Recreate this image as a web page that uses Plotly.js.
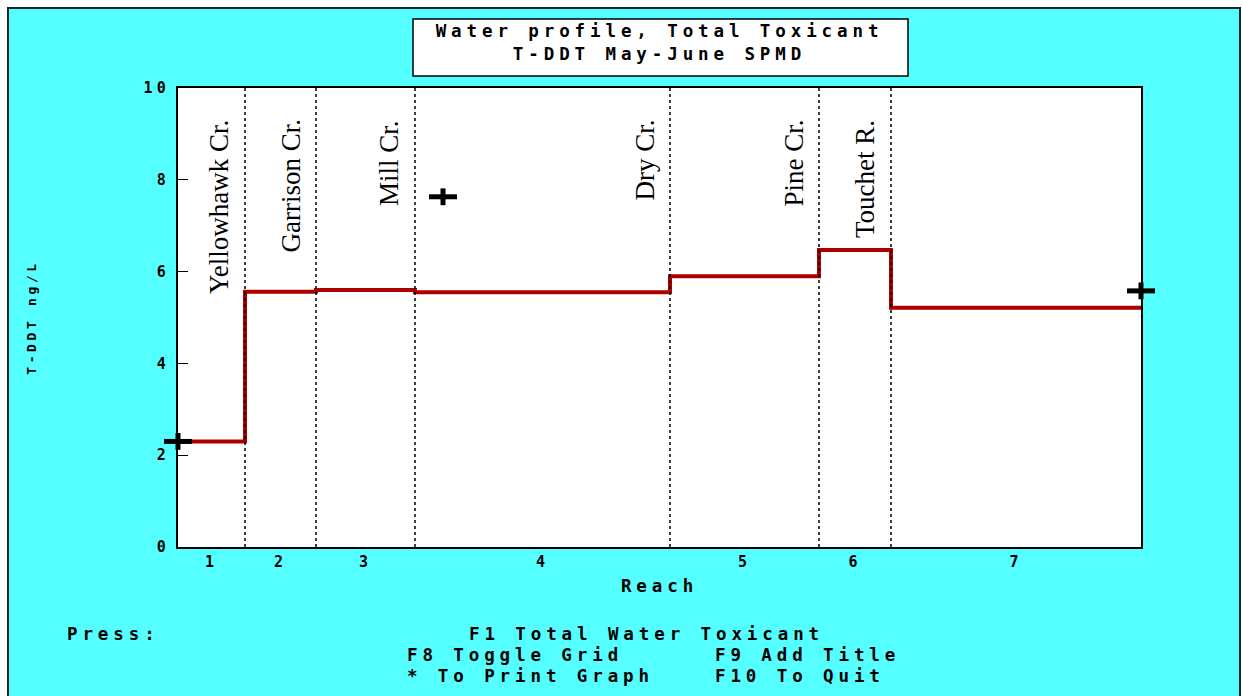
<!DOCTYPE html>
<html>
<head>
<meta charset="utf-8">
<script src="https://cdn.plot.ly/plotly-3.0.1.min.js"></script>
<style>
  html, body { margin: 0; padding: 0; background: #ffffff; }
  #chart { width: 1243px; height: 696px; }
  text[style*="Mono"] { letter-spacing: 0.28em; }
</style>
</head>
<body>
<div id="chart"></div>
<script>
// ---- data ----
// reach boundaries along the river (arbitrary distance units)
const reachBounds = [0, 3.35, 6.9, 11.85, 24.6, 32.05, 35.65, 48.15];
const reachLabels = ['1', '2', '3', '4', '5', '6', '7'];
// modelled total T-DDT water concentration per reach (ng/L)
const reachTDDT = [2.3, 5.56, 5.6, 5.55, 5.9, 6.47, 5.21];
// tributaries entering at reach boundaries 1..6
const tributaries = ['Yellowhawk Cr.', 'Garrison Cr.', 'Mill Cr.', 'Dry Cr.', 'Pine Cr.', 'Touchet R.'];
// measured SPMD samples
const sampleX = [0, 13.25, 48.15];
const sampleY = [2.3, 7.63, 5.58];
const yTicks = [0, 2, 4, 6, 8, 10];

// ---- layout helpers ----
const W = 1243, H = 696;
const M = {l: 178, r: 102, t: 88, b: 149};
const PW = W - M.l - M.r, PH = H - M.t - M.b;
const px = v => (v - M.l) / PW;          // pixel x -> paper x
const py = v => (H - M.b - v) / PH;      // pixel y -> paper y

const MONO = '"DejaVu Sans Mono", "Liberation Mono", monospace';
const SERIF = '"Liberation Serif", "DejaVu Serif", serif';
const CYAN = '#55FFFF';

// step line built from reach data
const stepX = reachBounds.slice();
const stepY = reachTDDT.concat([reachTDDT[reachTDDT.length - 1]]);
const midX = reachLabels.map((_, i) => (reachBounds[i] + reachBounds[i + 1]) / 2);

const traces = [
  {
    x: stepX, y: stepY, type: 'scatter', mode: 'lines',
    line: {shape: 'hv', color: '#AA0000', width: 4},
    hoverinfo: 'x+y', showlegend: false
  },
  {
    x: sampleX, y: sampleY, type: 'scatter', mode: 'markers', cliponaxis: false,
    marker: {symbol: 'line-ew', size: 20, line: {width: 5, color: '#000000'}},
    showlegend: false
  },
  {
    x: sampleX, y: sampleY, type: 'scatter', mode: 'markers', cliponaxis: false,
    marker: {symbol: 'line-ns', size: 12, line: {width: 5, color: '#000000'}},
    showlegend: false
  }
];

const shapes = [
  // cyan screen frame
  {type: 'rect', xref: 'paper', yref: 'paper', layer: 'below',
   x0: px(8), x1: px(1240), y0: py(720), y1: py(8),
   fillcolor: CYAN, line: {color: '#102828', width: 2}},
  // white plot area
  {type: 'rect', xref: 'paper', yref: 'paper', layer: 'below',
   x0: 0, x1: 1, y0: 0, y1: 1, fillcolor: '#ffffff', line: {width: 0}},
  // title box
  {type: 'rect', xref: 'paper', yref: 'paper', layer: 'below',
   x0: px(413), x1: px(908), y0: py(76), y1: py(19),
   fillcolor: '#ffffff', line: {color: '#000000', width: 1.5}}
];
// dotted tributary lines at reach boundaries
for (let i = 1; i < reachBounds.length - 1; i++) {
  shapes.push({type: 'line', xref: 'x', yref: 'paper',
    x0: reachBounds[i], x1: reachBounds[i], y0: 0, y1: 1,
    line: {color: '#000000', width: 1.5, dash: 'dot'}});
}

const annotations = [];
tributaries.forEach((name, i) => {
  annotations.push({
    text: name, x: reachBounds[i + 1], xref: 'x', y: py(118), yref: 'paper',
    xanchor: 'right', yanchor: 'top', xshift: -9, textangle: -90, showarrow: false,
    font: {family: SERIF, size: 27, color: '#000000'}
  });
});

const menu = [
  ['Press:', 66, 634],
  ['F1 Total Water Toxicant', 468, 634],
  ['F8 Toggle Grid', 406, 655],
  ['F9 Add Title', 714, 655],
  ['* To Print Graph', 406, 676],
  ['F10 To Quit', 714, 676]
];
menu.forEach(m => {
  annotations.push({
    text: m[0], x: px(m[1]), y: py(m[2]), xref: 'paper', yref: 'paper',
    xanchor: 'left', yanchor: 'middle', showarrow: false, borderpad: 0,
    font: {family: MONO, size: 17.5, color: '#000000', weight: 'bold'}
  });
});

const layout = {
  width: W, height: H,
  margin: M,
  paper_bgcolor: '#ffffff',
  plot_bgcolor: '#ffffff',
  showlegend: false,
  title: {
    text: 'Water profile, Total Toxicant<br>T-DDT May-June SPMD',
    x: 0.5, xref: 'paper', xanchor: 'center',
    y: 1 - 37 / H, yref: 'container', yanchor: 'middle',
    font: {family: MONO, size: 17.5, color: '#000000', weight: 'bold'}
  },
  xaxis: {
    range: [reachBounds[0], reachBounds[reachBounds.length - 1]],
    tickmode: 'array', tickvals: midX, ticktext: reachLabels,
    ticks: '', showgrid: false, zeroline: false,
    showline: true, mirror: true, linecolor: '#000000', linewidth: 2,
    tickfont: {family: MONO, size: 15, color: '#000000', weight: 'bold'},
    title: {text: 'Reach', standoff: 10,
      font: {family: MONO, size: 17.5, color: '#000000', weight: 'bold'}},
    fixedrange: true
  },
  yaxis: {
    range: [0, 10], tickmode: 'array', tickvals: yTicks,
    ticks: 'inside', ticklen: 10, tickwidth: 1, tickcolor: '#000000',
    showgrid: false, zeroline: false,
    showline: true, mirror: true, linecolor: '#000000', linewidth: 2,
    tickfont: {family: MONO, size: 15, color: '#000000', weight: 'bold'},
    ticklabelstandoff: 3,
    title: {text: 'T-DDT ng/L', standoff: 104,
      font: {family: MONO, size: 13, color: '#000000', weight: 'bold'}},
    fixedrange: true
  },
  shapes: shapes,
  annotations: annotations
};

Plotly.newPlot('chart', traces, layout, {displayModeBar: false, staticPlot: true});
</script>
</body>
</html>
